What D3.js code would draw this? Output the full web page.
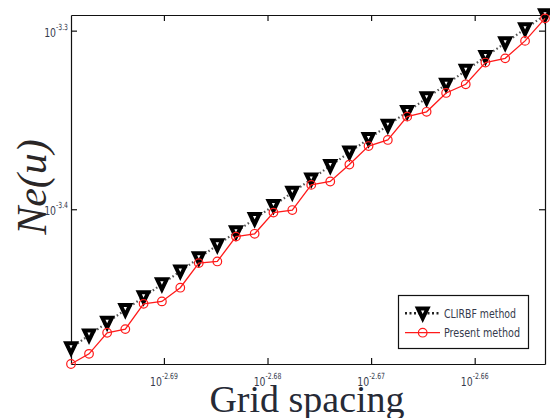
<!DOCTYPE html>
<html>
<head>
<meta charset="utf-8">
<script src="https://d3js.org/d3.v7.min.js"></script>
<style>
body{margin:0;background:#fff;}
</style>
</head>
<body>
<script>
var w=550;
var h=418;

// grid spacing h = 1/N for N = 500, 498, ... , 450
var gridSpacing=[0.00200000,0.00200803,0.00201613,0.00202429,0.00203252,0.00204082,
	0.00204918,0.00205761,0.00206612,0.00207469,0.00208333,0.00209205,0.00210084,
	0.00210970,0.00211864,0.00212766,0.00213675,0.00214592,0.00215517,0.00216450,
	0.00217391,0.00218341,0.00219298,0.00220264,0.00221239,0.00222222];

var clirbfErr=[3.329e-4,3.384e-4,3.440e-4,3.497e-4,3.555e-4,3.615e-4,3.675e-4,
	3.738e-4,3.801e-4,3.866e-4,3.932e-4,3.999e-4,4.068e-4,4.138e-4,4.210e-4,
	4.284e-4,4.359e-4,4.435e-4,4.514e-4,4.594e-4,4.676e-4,4.760e-4,4.846e-4,
	4.933e-4,5.023e-4,5.114e-4];

var presentErr=[3.261e-4,3.304e-4,3.395e-4,3.411e-4,3.524e-4,3.535e-4,3.598e-4,
	3.714e-4,3.722e-4,3.843e-4,3.857e-4,3.964e-4,3.977e-4,4.108e-4,4.126e-4,
	4.217e-4,4.319e-4,4.353e-4,4.486e-4,4.514e-4,4.625e-4,4.677e-4,4.810e-4,
	4.836e-4,4.946e-4,5.092e-4];

var xTickExp=["-2.69","-2.68","-2.67","-2.66"];
var yTickExp=["-3.4","-3.3"];
var seriesNames=["CLIRBF method","Present method"];

var pLeft=71, pRight=545, pTop=15, pBottom=364;

var x=d3.scaleLog().domain([d3.min(gridSpacing),d3.max(gridSpacing)]).range([pLeft,pRight]);
var y=d3.scaleLog().domain([d3.min(presentErr),d3.max(clirbfErr)]).range([pBottom,pTop]);

var svg=d3.select("body").append("svg")
	.attr('width',w)
	.attr('height',h);

var tickFont="'Liberation Sans Narrow','DejaVu Sans Condensed','Liberation Sans',sans-serif";

// axes box with inward ticks on all four sides
var xVals=xTickExp.map(function(e){ return Math.pow(10,+e); });
var yVals=yTickExp.map(function(e){ return Math.pow(10,+e); });

function addAxis(axis,tx,ty){
	var g=svg.append("g").attr("transform","translate("+tx+","+ty+")").call(axis);
	g.selectAll("path,line").attr("stroke","#111").attr("stroke-width",1.2);
	g.selectAll("text").remove();
	return g;
}
addAxis(d3.axisBottom(x).tickValues(xVals).tickSizeInner(-6).tickSizeOuter(0),0,pBottom);
addAxis(d3.axisTop(x).tickValues(xVals).tickSizeInner(-6).tickSizeOuter(0),0,pTop);
addAxis(d3.axisLeft(y).tickValues(yVals).tickSizeInner(-6).tickSizeOuter(0),pLeft,0);
addAxis(d3.axisRight(y).tickValues(yVals).tickSizeInner(-6).tickSizeOuter(0),pRight,0);

// tick labels 10^e, squeezed like the narrow original font
function tickLabel(px,py,anchor,e){
	var t=svg.append("text")
		.attr("transform","translate("+px+","+py+") scale(0.8,1)")
		.attr("text-anchor",anchor)
		.attr("font-family",tickFont).attr("font-size",13)
		.attr("fill","#353a4c");
	t.append("tspan").text("10");
	t.append("tspan").attr("dy",-7).attr("font-size",8.5).text(e);
}
xTickExp.forEach(function(e,i){ tickLabel(x(xVals[i]),386,"middle",e); });
yTickExp.forEach(function(e,i){ tickLabel(pLeft-3,y(yVals[i])+6,"end",e); });

// axis titles
svg.append("text")
	.attr("x",307).attr("y",412)
	.attr("text-anchor","middle")
	.attr("font-family","'Liberation Serif','DejaVu Serif',serif")
	.attr("font-size",38)
	.attr("fill","#262a36")
	.text("Grid spacing");

svg.append("text")
	.attr("transform","translate(46,187) rotate(-90)")
	.attr("text-anchor","middle")
	.attr("font-family","'Liberation Serif','DejaVu Serif',serif")
	.attr("font-style","italic")
	.attr("font-size",42)
	.attr("fill","#2a2626")
	.text("Ne(u)");

// series
var clirbf=gridSpacing.map(function(d,i){ return {x:d,y:clirbfErr[i]}; });
var present=gridSpacing.map(function(d,i){ return {x:d,y:presentErr[i]}; });

var line=d3.line()
	.x(function(d){ return x(d.x); })
	.y(function(d){ return y(d.y); });

var tri="M-4.8,-4.8L4.8,-4.8L0,5.2Z";

svg.append("path").datum(clirbf)
	.attr("d",line)
	.attr("fill","none")
	.attr("stroke","#555")
	.attr("stroke-width",2.2)
	.attr("stroke-dasharray","1.5,2.5");

svg.append("g").selectAll("path")
	.data(clirbf)
	.enter().append("path")
	.attr("d",tri)
	.attr("transform",function(d){ return "translate("+x(d.x)+","+y(d.y)+")"; })
	.attr("fill","#fff")
	.attr("stroke","#000")
	.attr("stroke-width",4)
	.attr("stroke-linejoin","miter");

svg.append("path").datum(present)
	.attr("d",line)
	.attr("fill","none")
	.attr("stroke","#ff1a1a")
	.attr("stroke-width",1.3);

svg.append("g").selectAll("circle")
	.data(present)
	.enter().append("circle")
	.attr("cx",function(d){ return x(d.x); })
	.attr("cy",function(d){ return y(d.y); })
	.attr("r",4.3)
	.attr("fill","none")
	.attr("stroke","#ff1a1a")
	.attr("stroke-width",1.2);

// legend
var lg=svg.append("g");
lg.append("rect")
	.attr("x",398.5).attr("y",295.5)
	.attr("width",130).attr("height",53)
	.attr("fill","#fff")
	.attr("stroke","#111")
	.attr("stroke-width",1.2);

var rows=[313.3,332.7];
lg.append("line")
	.attr("x1",405).attr("x2",440).attr("y1",rows[0]).attr("y2",rows[0])
	.attr("stroke","#222").attr("stroke-width",2.4).attr("stroke-dasharray","2,2.5");
lg.append("path")
	.attr("d",tri)
	.attr("transform","translate(422.7,"+rows[0]+")")
	.attr("fill","#fff").attr("stroke","#000").attr("stroke-width",4);
lg.append("line")
	.attr("x1",405).attr("x2",440).attr("y1",rows[1]).attr("y2",rows[1])
	.attr("stroke","#ff1a1a").attr("stroke-width",1.3);
lg.append("circle")
	.attr("cx",422.7).attr("cy",rows[1]).attr("r",4.3)
	.attr("fill","none").attr("stroke","#ff1a1a").attr("stroke-width",1.2);

seriesNames.forEach(function(name,i){
	lg.append("text")
		.attr("x",444).attr("y",rows[i]+4.5)
		.attr("font-family",tickFont).attr("font-size",13)
		.attr("fill","#353a4c")
		.attr("textLength",i==0?72:76)
		.attr("lengthAdjust","spacingAndGlyphs")
		.text(name);
});
</script>
</body>
</html>
